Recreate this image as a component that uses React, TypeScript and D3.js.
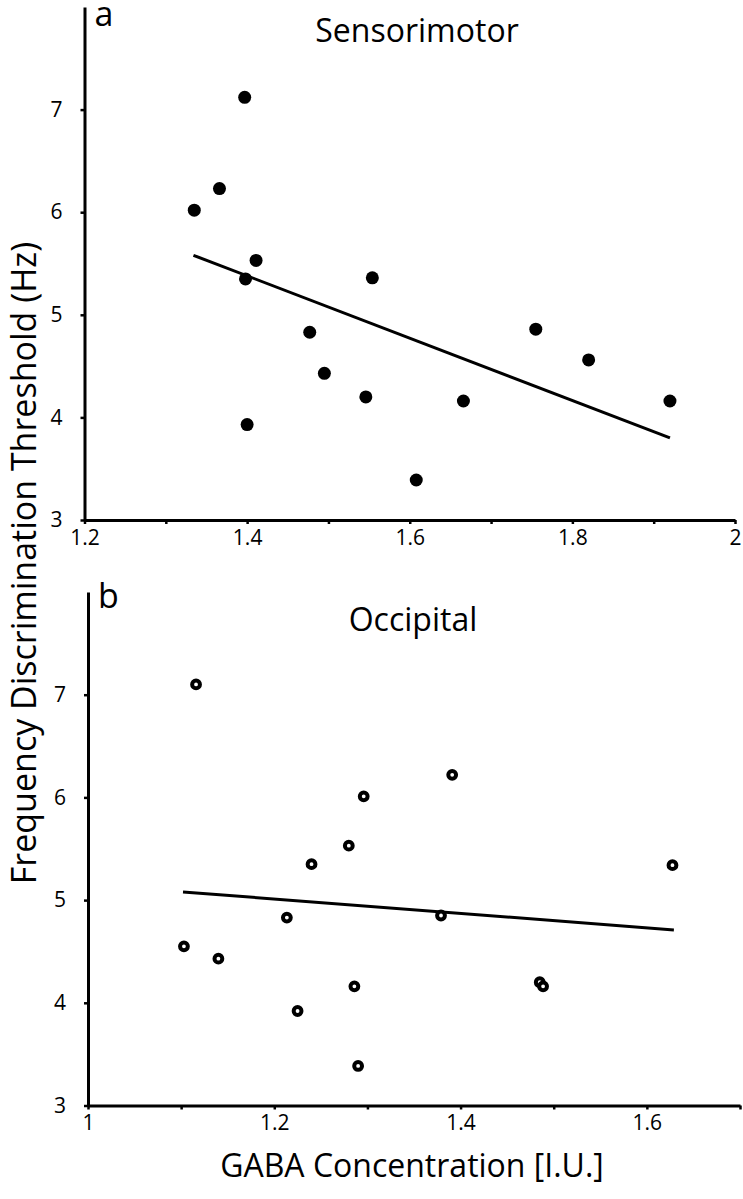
import * as d3 from 'd3';
import React, { useEffect, useRef } from 'react';

// panel a: sensorimotor GABA vs threshold
const sensoriGaba = [1.335, 1.366, 1.397, 1.411, 1.398, 1.4, 1.477, 1.495, 1.546, 1.554, 1.608, 1.666, 1.755, 1.82, 1.92];
const sensoriThreshold = [6.02, 6.23, 7.12, 5.53, 5.35, 3.93, 4.83, 4.43, 4.2, 5.36, 3.39, 4.16, 4.86, 4.56, 4.16];
const sensoriFitX = [1.334, 1.92];
const sensoriFitY = [5.58, 3.8];

// panel b: occipital GABA vs threshold
const occipitalGaba = [1.116, 1.296, 1.28, 1.24, 1.2135, 1.103, 1.14, 1.286, 1.225, 1.29, 1.391, 1.379, 1.485, 1.4886, 1.6275];
const occipitalThreshold = [7.1, 6.01, 5.53, 5.35, 4.83, 4.55, 4.43, 4.16, 3.92, 3.385, 6.22, 4.85, 4.2, 4.16, 5.34];
const occipitalFitX = [1.102, 1.629];
const occipitalFitY = [5.08, 4.71];

const yTicks = [3, 4, 5, 6, 7];
const sensoriXTicks = [1.2, 1.3, 1.4, 1.5, 1.6, 1.7, 1.8, 1.9, 2];
const occipitalXTicks = [1, 1.1, 1.2, 1.3, 1.4, 1.5, 1.6, 1.7];

const FONT = '"Open Sans", sans-serif';

const App = () => {
  const svgRef = useRef<SVGSVGElement>(null);

  useEffect(() => {
    const svg = d3.select(svgRef.current);
    svg.selectAll('*').remove();

    const panels = [
      {
        letter: 'a', title: 'Sensorimotor', titleX: 417, titleY: 42, letterY: 26,
        xs: sensoriGaba, ys: sensoriThreshold, fx: sensoriFitX, fy: sensoriFitY,
        x: d3.scaleLinear().domain([1.2, 2]).range([84.5, 735]),
        y: d3.scaleLinear().domain([3, 8]).range([520, 7]),
        xTicks: sensoriXTicks, filled: true,
      },
      {
        letter: 'b', title: 'Occipital', titleX: 413, titleY: 631, letterY: 608,
        xs: occipitalGaba, ys: occipitalThreshold, fx: occipitalFitX, fy: occipitalFitY,
        x: d3.scaleLinear().domain([1, 1.7]).range([88, 740]),
        y: d3.scaleLinear().domain([3, 8]).range([1105.5, 592]),
        xTicks: occipitalXTicks, filled: false,
      },
    ];

    panels.forEach(p => {
      const g = svg.append('g');
      const x0 = p.x.range()[0];
      const y0 = p.y.range()[0];

      // x axis, labels on every other tick
      const xAxis = g.append('g')
        .attr('transform', `translate(0,${y0})`)
        .call(d3.axisBottom(p.x)
          .tickValues(p.xTicks)
          .tickSizeInner(4)
          .tickSizeOuter(0)
          .tickPadding(6)
          .tickFormat((d, i) => (i % 2 === 0 ? d3.format('')(+d) : '')));
      xAxis.select('.domain').attr('stroke-width', 3).attr('stroke', '#000');
      xAxis.selectAll('.tick line').attr('stroke-width', 2.5);
      xAxis.selectAll('.tick text')
        .attr('font-family', FONT).attr('font-size', 21).attr('fill', '#000');

      // y axis
      const yAxis = g.append('g')
        .attr('transform', `translate(${x0},0)`)
        .call(d3.axisLeft(p.y)
          .tickValues(yTicks)
          .tickSizeInner(4)
          .tickSizeOuter(0)
          .tickPadding(18)
          .tickFormat(d3.format('d')));
      yAxis.select('.domain').attr('stroke-width', 3).attr('stroke', '#000');
      yAxis.selectAll('.tick line').attr('stroke-width', 2.5);
      yAxis.selectAll('.tick text')
        .attr('font-family', FONT).attr('font-size', 21).attr('fill', '#000');

      // regression line
      g.append('path')
        .datum(p.fx.map((v, i) => [v, p.fy[i]]))
        .attr('fill', 'none')
        .attr('stroke', '#000')
        .attr('stroke-width', 3)
        .attr('d', d3.line<number[]>().x(d => p.x(d[0])).y(d => p.y(d[1])));

      // points: filled dots (a), rings (b)
      g.selectAll('circle')
        .data(p.xs.map((v, i) => [v, p.ys[i]]))
        .enter()
        .append('circle')
        .attr('cx', d => p.x(d[0]))
        .attr('cy', d => p.y(d[1]))
        .attr('r', p.filled ? 6.5 : 3.9)
        .attr('fill', p.filled ? '#000' : '#fff')
        .attr('stroke', p.filled ? 'none' : '#000')
        .attr('stroke-width', 4);

      g.append('text')
        .attr('x', x0 + 10)
        .attr('y', p.letterY)
        .attr('font-family', FONT)
        .attr('font-size', 34)
        .text(p.letter);

      g.append('text')
        .attr('x', p.titleX)
        .attr('y', p.titleY)
        .attr('text-anchor', 'middle')
        .attr('font-family', FONT)
        .attr('font-size', 32)
        .text(p.title);
    });

    svg.append('text')
      .attr('transform', 'translate(36,563) rotate(-90)')
      .attr('text-anchor', 'middle')
      .attr('font-family', FONT)
      .attr('font-size', 34)
      .text('Frequency Discrimination Threshold (Hz)');

    svg.append('text')
      .attr('x', 412)
      .attr('y', 1177)
      .attr('text-anchor', 'middle')
      .attr('font-family', FONT)
      .attr('font-size', 32)
      .text('GABA Concentration [I.U.]');
  }, []);

  return (
    <svg
      ref={svgRef}
      width={743}
      height={1199}
      style={{ position: 'absolute', left: 0, top: 0, background: '#fff' }}
    />
  );
};

export default App;
